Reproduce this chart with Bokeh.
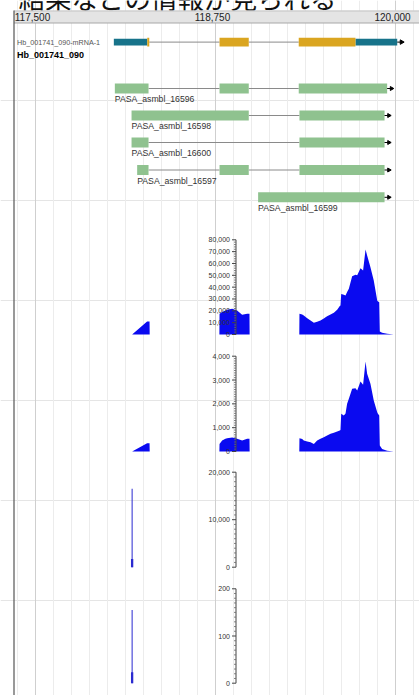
import numpy as np
from bokeh.plotting import figure
from bokeh.models import Range1d, FixedTicker, Grid
from bokeh.core.properties import value
from bokeh.embed import file_html
from bokeh.resources import INLINE

# ---------------- data ----------------
title_text = "結果などの情報が見られる"

ruler_ticks = [117500, 118750, 120000]
ruler_labels = ["117,500", "118,750", "120,000"]
grid_minor_step = 125

mrna_name = "Hb_001741_090-mRNA-1"
gene_name = "Hb_001741_090"
gene_utr_starts = [118044, 119722]
gene_utr_ends = [118276, 120012]
gene_cds_starts = [118276, 118778, 119328]
gene_cds_ends = [118290, 118981, 119722]
gene_start = 118044
gene_end = 120012

pasa_names = ["PASA_asmbl_16596", "PASA_asmbl_16598", "PASA_asmbl_16600",
              "PASA_asmbl_16597", "PASA_asmbl_16599"]
pasa_exon_starts = [[118051, 118778, 119328], [118167, 119333], [118167, 119333],
                    [118206, 118778, 119333], [119046]]
pasa_exon_ends = [[118285, 118981, 119942], [118981, 119924], [118285, 119924],
                  [118285, 118981, 119924], [119924]]

cov_pos = [118171, 118275, 118292, 118293,
           118777, 118778, 118796, 118819, 118831, 118866, 118900, 118935, 118970, 118986, 118987,
           119332, 119333, 119352, 119363, 119387, 119410, 119433, 119456, 119479, 119502, 119525,
           119549, 119572, 119595, 119613, 119618, 119623, 119641, 119653, 119664, 119676, 119699,
           119722, 119734, 119757, 119775, 119792, 119803, 119826, 119849, 119873, 119877, 119887,
           119891, 119907, 119942, 119988]
cov1_vals = [0, 11000, 11000, 0,
             0, 17450, 19000, 20270, 21000, 21680, 20270, 16600, 17450, 17450, 0,
             0, 17450, 16800, 16050, 13800, 11800, 9850, 10800, 11800, 13500, 15500,
             16900, 18300, 21000, 24000, 24500, 34300, 33500, 32900, 36000, 38600, 49300,
             50400, 50000, 56000, 54000, 71800, 66700, 56900, 45600, 28700, 28000, 27300,
             2500, 1500, 600, 0]
cov2_vals = [0, 350, 350, 0,
             0, 320, 460, 540, 560, 590, 530, 460, 530, 530, 0,
             0, 560, 520, 460, 420, 390, 320, 460, 530, 600, 670,
             740, 790, 840, 880, 900, 1580, 1510, 1600, 2000, 2210, 2630,
             2660, 2560, 2940, 2800, 3780, 3260, 2840, 2140, 1650, 1600, 1510,
             250, 110, 30, 0]
spike_pos = [118171, 118171]
spike_width = [7, 16]
cov3_vals = [16500, 1750]
cov4_vals = [155, 23]

cov1_ticks = [0, 10000, 20000, 30000, 40000, 50000, 60000, 70000, 80000]
cov1_labels = ["0", "10,000", "20,000", "30,000", "40,000", "50,000", "60,000", "70,000", "80,000"]
cov2_ticks = [0, 1000, 2000, 3000, 4000]
cov2_labels = ["0", "1,000", "2,000", "3,000", "4,000"]
cov3_ticks = [0, 10000, 20000]
cov3_labels = ["0", "10,000", "20,000"]
cov4_ticks = [0, 100, 200]
cov4_labels = ["0", "100", "200"]

# ---------------- layout ----------------
W, H = 419, 695
px_major = 35          # pixel of 117,500
bp_per_px = 1250 / 180
x0 = ruler_ticks[0] - px_major * bp_per_px
x1 = ruler_ticks[0] + (W - px_major) * bp_per_px
axis_bp = x0 + 235.5 * bp_per_px
frame_bp = x0 + 13.5 * bp_per_px

p = figure(width=W, height=H, x_range=Range1d(x0, x1), y_range=Range1d(H, 0),
           output_backend="svg", toolbar_location=None,
           x_axis_location=None, y_axis_location=None,
           min_border=0, outline_line_color=None, margin=(0, 0, 0, 0))
p.background_fill_color = "white"
p.border_fill_color = "white"

minor = list(np.arange(117375, 120200, grid_minor_step))
g = Grid(dimension=0, ticker=FixedTicker(ticks=ruler_ticks, minor_ticks=minor),
         grid_line_color="#cfcfcf", grid_line_width=1,
         minor_grid_line_color="#ececec", minor_grid_line_width=1)
p.add_layout(g)

FONT = value("Liberation Sans")

# title (cut off at the top, only its lower edge shows)
p.text(x=[x0 + 18 * bp_per_px], y=[-3.5], text=[title_text], text_font=value("Noto Sans CJK JP"),
       text_font_size="26.5px", text_color="#111111", text_baseline="ideographic")

# ruler bar
p.quad(left=[frame_bp], right=[x1], top=[10], bottom=[22.5], fill_color="#e4e4e4",
       line_color=None)
p.segment(x0=[frame_bp], y0=[22.5], x1=[x1], y1=[22.5], line_color="#a8a8a8", line_width=1)
p.segment(x0=[frame_bp], y0=[10.5], x1=[x1], y1=[10.5], line_color="#c4c4c4", line_width=1)
p.text(x=ruler_ticks, y=[16.5] * 3, text=ruler_labels, text_font=FONT, text_font_size="10px",
       text_color="#222222", text_align="center", text_baseline="middle", x_offset=-3)

# left frame border
p.segment(x0=[frame_bp], y0=[10], x1=[frame_bp], y1=[H], line_color="#555555", line_width=1.2)

arrow_len = 30
# gene track
gy = 41.6
p.segment(x0=[gene_cds_ends[0], gene_cds_ends[1]], y0=[gy, gy],
          x1=[gene_cds_starts[1], gene_cds_starts[2]], y1=[gy, gy], line_color="#8a8a8a", line_width=1)
p.quad(left=gene_utr_starts, right=gene_utr_ends, top=[gy - 3.4] * 2, bottom=[gy + 3.4] * 2,
       fill_color="#17738a", line_color=None)
p.quad(left=gene_cds_starts, right=gene_cds_ends, top=[gy - 4.4] * 3, bottom=[gy + 4.4] * 3,
       fill_color="#daa520", line_color=None)
p.segment(x0=[gene_end], y0=[gy], x1=[gene_end + arrow_len], y1=[gy], line_color="black", line_width=1)
p.scatter(x=[gene_end + arrow_len], y=[gy], marker="triangle", angle=-np.pi / 2, size=4.5,
          color="black")
p.text(x=[x0 + 16.5 * bp_per_px], y=[gy], text=[mrna_name], text_font=FONT, text_font_size="7.2px",
       text_color="#555555", text_baseline="middle")
p.text(x=[x0 + 16.5 * bp_per_px], y=[54.5], text=[gene_name], text_font=FONT, text_font_size="9px",
       text_font_style="bold", text_color="#000000", text_baseline="middle")

# PASA tracks
pasa_y = [88, 115, 142, 169.5, 196.8]
for name, starts, ends, cy in zip(pasa_names, pasa_exon_starts, pasa_exon_ends, pasa_y):
    if len(starts) > 1:
        p.segment(x0=ends[:-1], y0=[cy] * (len(starts) - 1), x1=starts[1:], y1=[cy] * (len(starts) - 1),
                  line_color="#8a8a8a", line_width=1)
    p.quad(left=starts, right=ends, top=[cy - 5] * len(starts), bottom=[cy + 5] * len(starts),
           fill_color="#8fc28f", line_color=None)
    p.segment(x0=[ends[-1]], y0=[cy], x1=[ends[-1] + arrow_len], y1=[cy], line_color="black", line_width=1)
    p.scatter(x=[ends[-1] + arrow_len], y=[cy], marker="triangle", angle=-np.pi / 2, size=4,
              color="black")
    p.text(x=[starts[0]], y=[cy + 5.8], text=[name], text_font=FONT, text_font_size="8.7px",
           text_color="#333333", text_baseline="top")

# coverage tracks
tracks = [("cov1", 334.0, 239.3, 80000), ("cov2", 451.0, 355.7, 4000),
          ("cov3", 566.7, 471.7, 20000), ("cov4", 682.7, 588.3, 200)]
for name, base, top, vmax in tracks:
    k = (base - top) / vmax
    p.extra_y_ranges[name] = Range1d(start=(base - H) / k, end=base / k)

BLUE = "#0a0af0"
p.varea(x=cov_pos, y1=0, y2=cov1_vals, y_range_name="cov1", fill_color=BLUE)
p.varea(x=cov_pos, y1=0, y2=cov2_vals, y_range_name="cov2", fill_color=BLUE)
p.vbar(x=spike_pos, width=spike_width, top=cov3_vals, bottom=0, y_range_name="cov3",
       fill_color="#2a2ad0", line_color=None)
p.vbar(x=spike_pos, width=spike_width, top=cov4_vals, bottom=0, y_range_name="cov4",
       fill_color="#2a2ad0", line_color=None)


def draw_axis(name, ticks, labels, minor_step):
    vmax = ticks[-1]
    p.segment(x0=[axis_bp], y0=[0], x1=[axis_bp], y1=[vmax], y_range_name=name,
              line_color="#444444", line_width=1)
    n = len(ticks)
    p.segment(x0=[axis_bp - 4 * bp_per_px] * n, y0=ticks, x1=[axis_bp] * n, y1=ticks,
              y_range_name=name, line_color="#444444", line_width=1)
    mt = [v for v in np.arange(0, vmax, minor_step) if v not in ticks]
    p.segment(x0=[axis_bp - 2 * bp_per_px] * len(mt), y0=mt, x1=[axis_bp] * len(mt), y1=mt,
              y_range_name=name, line_color="#666666", line_width=0.8)
    p.text(x=[axis_bp] * n, y=ticks, text=labels, y_range_name=name, text_font=FONT,
           text_font_size="7px", text_color="#333333", text_align="right",
           text_baseline="middle", x_offset=-6)


draw_axis("cov1", cov1_ticks, cov1_labels, 2000)
draw_axis("cov2", cov2_ticks, cov2_labels, 100)
draw_axis("cov3", cov3_ticks, cov3_labels, 1000)
draw_axis("cov4", cov4_ticks, cov4_labels, 10)

open("out.html", "w").write(file_html(p, INLINE))
